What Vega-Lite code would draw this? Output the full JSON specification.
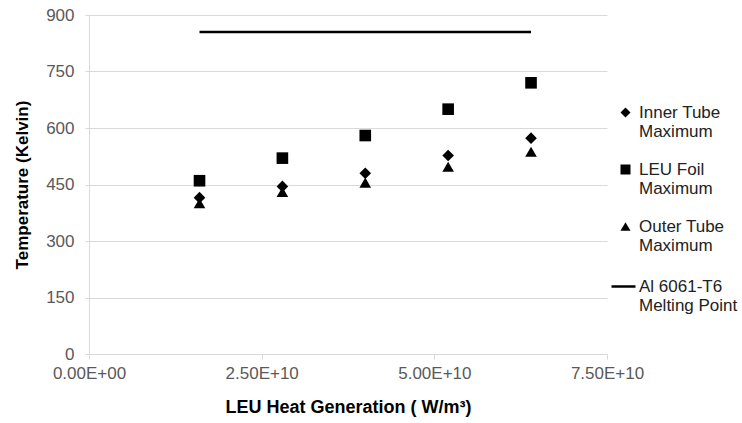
{
  "$schema": "https://vega.github.io/schema/vega-lite/v6.json",
  "width": 518,
  "height": 339,
  "autosize": "none",
  "padding": {"left": 89, "top": 15, "right": 135, "bottom": 69},
  "background": "white",
  "config": {
    "view": {"stroke": null},
    "font": "Liberation Sans"
  },
  "datasets": {
    "pts": [
      {"x": 1.6e10, "series": "Inner Tube Maximum", "T": 415},
      {"x": 2.8e10, "series": "Inner Tube Maximum", "T": 445},
      {"x": 4.0e10, "series": "Inner Tube Maximum", "T": 480},
      {"x": 5.2e10, "series": "Inner Tube Maximum", "T": 527},
      {"x": 6.4e10, "series": "Inner Tube Maximum", "T": 573},
      {"x": 1.6e10, "series": "LEU Foil Maximum", "T": 460},
      {"x": 2.8e10, "series": "LEU Foil Maximum", "T": 520},
      {"x": 4.0e10, "series": "LEU Foil Maximum", "T": 580},
      {"x": 5.2e10, "series": "LEU Foil Maximum", "T": 650},
      {"x": 6.4e10, "series": "LEU Foil Maximum", "T": 720},
      {"x": 1.6e10, "series": "Outer Tube Maximum", "T": 400},
      {"x": 2.8e10, "series": "Outer Tube Maximum", "T": 430},
      {"x": 4.0e10, "series": "Outer Tube Maximum", "T": 455},
      {"x": 5.2e10, "series": "Outer Tube Maximum", "T": 497},
      {"x": 6.4e10, "series": "Outer Tube Maximum", "T": 537}
    ],
    "melt": [
      {"x": 1.6e10, "ref": "Al 6061-T6 Melting Point", "T": 855},
      {"x": 6.4e10, "ref": "Al 6061-T6 Melting Point", "T": 855}
    ]
  },
  "layer": [
    {
      "data": {"name": "melt"},
      "mark": {"type": "line", "strokeWidth": 2.5},
      "encoding": {
        "x": {"field": "x", "type": "quantitative"},
        "y": {"field": "T", "type": "quantitative"},
        "color": {
          "field": "ref", "type": "nominal",
          "scale": {"range": ["black"]},
          "legend": {
            "title": null,
            "orient": "none",
            "legendX": 521,
            "legendY": 258,
            "labelFontSize": 17,
            "labelColor": "#222222",
            "labelLimit": 200,
            "labelLineHeight": 19,
            "symbolType": "stroke",
            "symbolSize": 576,
            "symbolStrokeWidth": 2.5,
            "labelOffset": 2,
            "labelBaseline": "middle",
            "labelExpr": "['Al 6061-T6','Melting Point']"
          }
        }
      }
    },
    {
      "data": {"name": "pts"},
      "mark": {"type": "point", "filled": true, "color": "black", "opacity": 1, "size": 135},
      "encoding": {
        "x": {
          "field": "x", "type": "quantitative",
          "scale": {"domain": [0, 7.5e10], "nice": false},
          "axis": {
            "values": [0, 2.5e10, 5e10, 7.5e10],
            "labelExpr": "datum.value == 0 ? '0.00E+00' : format(datum.value/1e10, '.2f') + 'E+10'",
            "labelFlush": false,
            "labelOverlap": false,
            "grid": false,
            "domainColor": "#d9d9d9",
            "tickColor": "#d9d9d9",
            "tickSize": 5,
            "labelFontSize": 17,
            "labelColor": "#595959",
            "labelPadding": 6,
            "title": "LEU Heat Generation ( W/m³)",
            "titleFontSize": 18,
            "titleFontWeight": "bold",
            "titleColor": "black",
            "titlePadding": 17
          }
        },
        "y": {
          "field": "T", "type": "quantitative",
          "scale": {"domain": [0, 900], "nice": false},
          "axis": {
            "values": [0, 150, 300, 450, 600, 750, 900],
            "grid": true,
            "gridColor": "#d9d9d9",
            "domainColor": "#d9d9d9",
            "tickColor": "#d9d9d9",
            "tickSize": 4,
            "labelFontSize": 17,
            "labelColor": "#595959",
            "labelPadding": 11,
            "title": "Temperature (Kelvin)",
            "titleFontSize": 17,
            "titleFontWeight": "bold",
            "titleColor": "black",
            "titlePadding": 14
          }
        },
        "shape": {
          "field": "series", "type": "nominal",
          "scale": {
            "domain": ["Inner Tube Maximum", "LEU Foil Maximum", "Outer Tube Maximum"],
            "range": ["diamond", "square", "triangle-up"]
          },
          "legend": {
            "title": null,
            "orient": "none",
            "legendX": 528,
            "legendY": 89,
            "labelFontSize": 17,
            "labelColor": "#222222",
            "labelLimit": 200,
            "labelLineHeight": 19,
            "symbolFillColor": "black",
            "symbolSize": 100,
            "rowPadding": 20,
            "labelOffset": 5,
            "labelBaseline": "middle",
            "labelExpr": "datum.label == 'Inner Tube Maximum' ? ['Inner Tube','Maximum'] : datum.label == 'LEU Foil Maximum' ? ['LEU Foil','Maximum'] : ['Outer Tube','Maximum']"
          }
        }
      }
    }
  ]
}
